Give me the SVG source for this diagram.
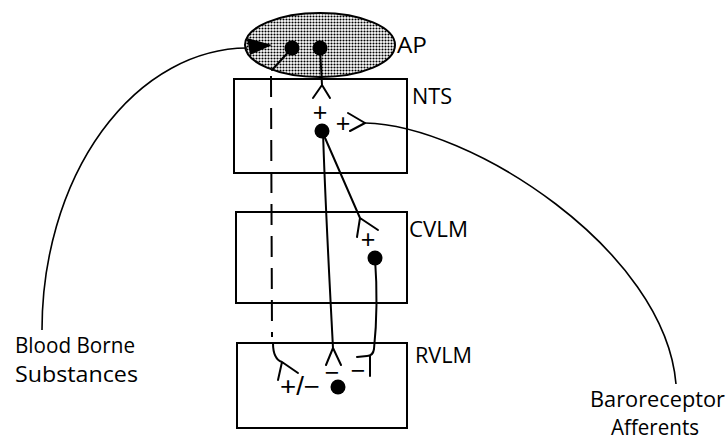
<svg xmlns="http://www.w3.org/2000/svg" width="727" height="440" viewBox="0 0 727 440">
<style>
.box{fill:none;stroke:#000;stroke-width:2}
.ln{fill:none;stroke:#000;stroke-width:2;stroke-linecap:round;stroke-linejoin:round}
.thin{fill:none;stroke:#000;stroke-width:1.6}
.lbl{font-family:"Open Sans","Liberation Sans",sans-serif;font-size:21px;fill:#000;font-weight:500}
.sym{font-family:"Liberation Sans",Arial,sans-serif;font-size:25px;fill:#000;text-anchor:middle}
.dot{fill:#000}
</style>
<defs>
<pattern id="stipple" patternUnits="userSpaceOnUse" width="3" height="3">
<rect width="3" height="3" fill="#fff"/>
<circle cx="1.5" cy="1.5" r="1.05" fill="#000"/>
</pattern>
</defs>
<rect width="727" height="440" fill="#fff"/>

<g id="ap">
<ellipse cx="320" cy="45" rx="75" ry="32" fill="url(#stipple)" stroke="#000" stroke-width="2"/>
<text class="lbl" x="397" y="53" textLength="30" lengthAdjust="spacingAndGlyphs">AP</text>
</g>

<g id="nts">
<rect class="box" x="234" y="79" width="173" height="94"/>
<text class="lbl" x="412" y="104" textLength="40" lengthAdjust="spacingAndGlyphs">NTS</text>
</g>

<g id="cvlm">
<rect class="box" x="236" y="212" width="171" height="91"/>
<text class="lbl" x="409" y="237" textLength="59" lengthAdjust="spacingAndGlyphs">CVLM</text>
</g>

<g id="rvlm">
<rect class="box" x="237" y="343" width="170" height="85"/>
<text class="lbl" x="415" y="363" textLength="57" lengthAdjust="spacingAndGlyphs">RVLM</text>
</g>

<g id="blood-borne">
<text class="lbl" x="15" y="353" textLength="120" lengthAdjust="spacingAndGlyphs">Blood Borne</text>
<text class="lbl" x="15" y="382" textLength="123" lengthAdjust="spacingAndGlyphs">Substances</text>
</g>

<g id="baroreceptor">
<text class="lbl" x="590" y="407" textLength="135" lengthAdjust="spacingAndGlyphs">Baroreceptor</text>
<text class="lbl" x="611" y="435" textLength="88" lengthAdjust="spacingAndGlyphs">Afferents</text>
</g>

<g id="connectors">
<!-- blood borne substances into AP -->
<path class="thin" d="M 247 48 A 206 282 0 0 0 42 330"/>
<polygon points="247,38 272,45 250,55" fill="#000"/>
<!-- AP neurons -->
<circle class="dot" cx="292" cy="48" r="7.5"/>
<circle class="dot" cx="320" cy="48" r="7.5"/>
<path class="ln" d="M 292 48 L 272 70"/>
<path class="ln" d="M 320 48 L 322 85 M 313 98 L 322 85 L 330 98"/>
<!-- dashed projection AP to RVLM -->
<path fill="none" stroke="#000" stroke-width="2" stroke-dasharray="21 11" d="M 271 76 L 272 337"/>
<path class="ln" d="M 273 343 C 273 355 276 360 282 362 L 298 373 M 282 362 L 278 380"/>
<text class="sym" x="300" y="395" textLength="40" lengthAdjust="spacingAndGlyphs">+/−</text>
<!-- NTS -->
<text class="sym" x="320" y="121">+</text>
<text class="sym" x="343" y="132">+</text>
<circle class="dot" cx="322" cy="131" r="7.5"/>
<path class="ln" d="M 348 113 L 365 123 L 350 131"/>
<!-- baroreceptor afferent -->
<path class="thin" d="M 365 123 C 470 125 665 250 676 384"/>
<!-- NTS to CVLM -->
<path class="ln" d="M 322 131 L 360 218 M 357 237 L 360 218 L 378 230"/>
<text class="sym" x="368" y="248">+</text>
<circle class="dot" cx="375" cy="258" r="7.5"/>
<!-- NTS to RVLM -->
<path class="ln" d="M 323 131 C 325 200 330 290 333 348 M 326 365 L 333 348 L 341 365"/>
<text class="sym" x="332" y="381">−</text>
<circle class="dot" cx="338" cy="387" r="7.5"/>
<!-- CVLM to RVLM inhibitory -->
<path class="ln" d="M 375 258 C 378 300 376 330 374 349 Q 373 356 367 356 L 357 357 M 370 356 L 370 376"/>
<text class="sym" x="358" y="379">−</text>
</g>
</svg>
